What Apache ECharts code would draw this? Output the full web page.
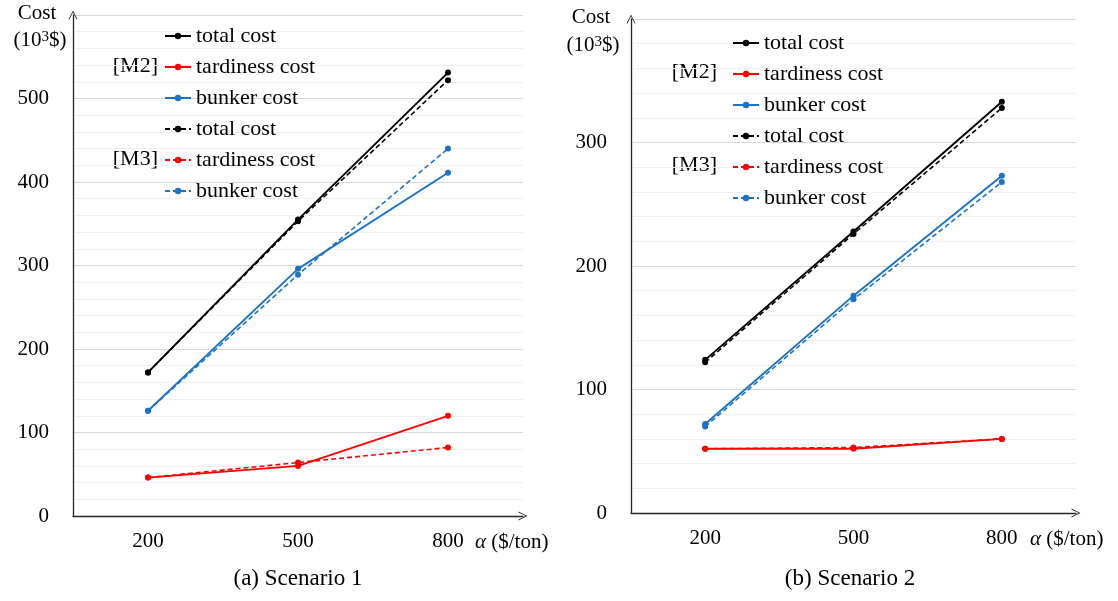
<!DOCTYPE html>
<html>
<head>
<meta charset="utf-8">
<title>Cost vs bunker price</title>
<script src="https://cdn.jsdelivr.net/npm/echarts@6/dist/echarts.min.js"></script>
<style>
  html, body { margin: 0; padding: 0; background: #fff; }
  #chart { width: 1118px; height: 601px; }
</style>
</head>
<body>
<div id="chart"></div>
<script>
// Bunker price levels (x categories)
const alphaLabels = ['200', '500', '800'];

// Scenario 1 (10^3 $)
const s1M2Total = [172, 355, 531];
const s1M2Tardiness = [46, 60, 120];
const s1M2Bunker = [126, 296, 411];
const s1M3Total = [172, 353, 522];
const s1M3Tardiness = [46, 64, 82];
const s1M3Bunker = [126, 289, 440];

// Scenario 2 (10^3 $)
const s2M2Total = [124, 228, 333];
const s2M2Tardiness = [52, 52, 60];
const s2M2Bunker = [72, 176, 273];
const s2M3Total = [122, 226, 328];
const s2M3Tardiness = [52, 53, 60];
const s2M3Bunker = [70, 173, 268];

const seriesLabels = ['total cost', 'tardiness cost', 'bunker cost'];

const FONT = 'Liberation Serif';
const INK = '#000';
const COLORS = { total: '#000000', tardiness: '#ff0000', bunker: '#1a73c8' };
const ARROW = 'path://M0,10 L5,0 L10,10 L9,10 L5,2 L1,10 Z';

const chart = echarts.init(document.getElementById('chart'), null, { renderer: 'canvas' });

function makeSeries(prefix, idx, model, key, data) {
  const dashed = model === 'M3';
  return {
    name: prefix + ' ' + model + ' ' + seriesLabels[['total', 'tardiness', 'bunker'].indexOf(key)],
    type: 'line',
    xAxisIndex: idx,
    yAxisIndex: idx,
    data: data,
    symbol: 'circle',
    symbolSize: 6,
    color: COLORS[key],
    lineStyle: { width: dashed ? 1.6 : 1.9, type: dashed ? [5, 3] : 'solid', color: COLORS[key] },
    itemStyle: { color: COLORS[key] },
    z: dashed ? 3 : 4,
    animation: false
  };
}

function yAxis(idx, max) {
  return {
    type: 'value', gridIndex: idx, min: 0, max: max, interval: 100,
    axisLine: { show: true, symbol: ['none', ARROW], symbolSize: [9, 10], lineStyle: { color: '#262626', width: 1.3 } },
    axisTick: { show: false },
    axisLabel: { showMaxLabel: false, margin: 24, color: INK, fontFamily: FONT, fontSize: 21 },
    splitLine: { show: true, lineStyle: { color: '#d9d9d9', width: 1 } },
    minorTick: { show: false, splitNumber: 5 },
    minorSplitLine: { show: true, lineStyle: { color: '#f0f0f0', width: 1 } }
  };
}

function xAxis(idx) {
  return {
    type: 'category', gridIndex: idx, data: alphaLabels, boundaryGap: true,
    axisLine: { show: true, symbol: ['none', ARROW], symbolSize: [9, 10], lineStyle: { color: '#262626', width: 1.3 } },
    axisTick: { show: false },
    axisLabel: { margin: 15, color: INK, fontFamily: FONT, fontSize: 21 },
    splitLine: { show: false }
  };
}

function legend(prefix, left, top) {
  const names = [];
  ['M2', 'M3'].forEach(m => seriesLabels.forEach(l => names.push(prefix + ' ' + m + ' ' + l)));
  return {
    data: names, orient: 'vertical', left: left, top: top,
    itemWidth: 26, itemHeight: 8, itemGap: 9,
    selectedMode: false,
    formatter: n => n.slice(prefix.length + 4),
    textStyle: { color: INK, fontFamily: FONT, fontSize: 22, lineHeight: 21 }
  };
}

function text(x, y, str, align, size, rich) {
  const fs = size || 21;
  const s = {
    text: str, x: 0, y: 0, align: align || 'center', verticalAlign: 'middle',
    fill: INK, font: fs + 'px "' + FONT + '"'
  };
  if (rich) {
    s.rich = {
      a: { fontStyle: 'italic', fontFamily: FONT, fontSize: fs, fill: INK },
      sup: { fontFamily: FONT, fontSize: 15, fill: INK, verticalAlign: 'top', lineHeight: 21 }
    };
  }
  return { type: 'text', x: x, y: y, silent: true, style: s };
}

const option = {
  backgroundColor: '#fff',
  animation: false,
  grid: [
    { left: 73, top: 15, width: 450, height: 501 },
    { left: 631, top: 19, width: 445, height: 494 }
  ],
  xAxis: [xAxis(0), xAxis(1)],
  yAxis: [yAxis(0, 600), yAxis(1, 400)],
  legend: [legend('S1', 159, 20), legend('S2', 727, 27)],
  series: [
    makeSeries('S1', 0, 'M2', 'total', s1M2Total),
    makeSeries('S1', 0, 'M2', 'tardiness', s1M2Tardiness),
    makeSeries('S1', 0, 'M2', 'bunker', s1M2Bunker),
    makeSeries('S1', 0, 'M3', 'total', s1M3Total),
    makeSeries('S1', 0, 'M3', 'tardiness', s1M3Tardiness),
    makeSeries('S1', 0, 'M3', 'bunker', s1M3Bunker),
    makeSeries('S2', 1, 'M2', 'total', s2M2Total),
    makeSeries('S2', 1, 'M2', 'tardiness', s2M2Tardiness),
    makeSeries('S2', 1, 'M2', 'bunker', s2M2Bunker),
    makeSeries('S2', 1, 'M3', 'total', s2M3Total),
    makeSeries('S2', 1, 'M3', 'tardiness', s2M3Tardiness),
    makeSeries('S2', 1, 'M3', 'bunker', s2M3Bunker)
  ],
  graphic: [
    text(37, 13, 'Cost'),
    text(40, 40, '(10{sup|3}$)', 'center', 21, true),
    text(591, 17, 'Cost'),
    text(593, 45, '(10{sup|3}$)', 'center', 21, true),
    text(158, 66, '[M2]', 'right', 22),
    text(158, 159, '[M3]', 'right', 22),
    text(717, 72, '[M2]', 'right', 22),
    text(717, 165, '[M3]', 'right', 22),
    text(475, 542, '{a|α} ($/ton)', 'left', 21, true),
    text(1030, 539, '{a|α} ($/ton)', 'left', 21, true),
    text(298, 579, '(a) Scenario 1', 'center', 23),
    text(850, 579, '(b) Scenario 2', 'center', 23)
  ]
};

chart.setOption(option);
</script>
</body>
</html>
